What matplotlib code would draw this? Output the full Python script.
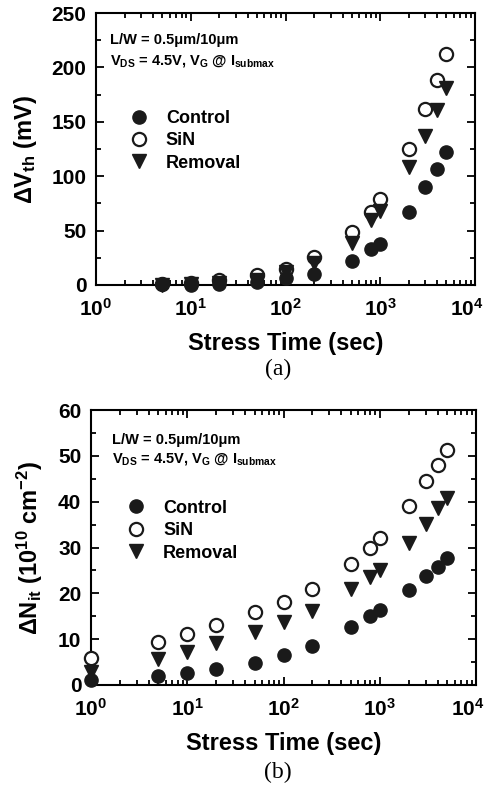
import math
import matplotlib
matplotlib.use("Agg")
import matplotlib.pyplot as plt
from matplotlib.ticker import FixedLocator, FuncFormatter, MultipleLocator, LogLocator, NullFormatter
from matplotlib.transforms import ScaledTranslation

plt.rcParams['font.family'] = ['Liberation Sans', 'DejaVu Sans']
plt.rcParams['font.weight'] = 'bold'
plt.rcParams['mathtext.fontset'] = 'custom'
plt.rcParams['mathtext.rm'] = 'Liberation Sans:bold'
plt.rcParams['mathtext.bf'] = 'Liberation Sans:bold'
plt.rcParams['mathtext.it'] = 'Liberation Sans:bold'

# (a) threshold voltage shift
time_a = [5, 10, 20, 50, 100, 200, 500, 800, 1000, 2000, 3000, 4000, 5000]
dvth_control = [0.5, 0.3, 1, 3, 6, 10, 22, 33, 38, 67, 90, 107, 122]
dvth_sin = [0.5, 2, 4.5, 9, 15, 26, 49, 67, 79, 125, 162, 188, 212]
dvth_removal = [0.3, 0.5, 2, 5, 12, 20, 39, 60, 68, 108, 137, 161, 181]

# (b) interface trap density
time_b = [1, 5, 10, 20, 50, 100, 200, 500, 800, 1000, 2000, 3000, 4000, 5000]
dnit_control = [1.1, 2.0, 2.7, 3.5, 4.9, 6.5, 8.5, 12.6, 15.1, 16.3, 20.8, 23.8, 25.7, 27.8]
dnit_sin = [6.0, 9.3, 11.1, 13.2, 15.9, 18.1, 21.0, 26.4, 29.9, 32.1, 39.1, 44.5, 48.0, 51.3]
dnit_removal = [2.9, 5.6, 7.3, 9.1, 11.6, 13.8, 16.2, 20.9, 23.6, 25.0, 31.0, 35.2, 38.6, 40.7]

labels = ['Control', 'SiN', 'Removal']
caption_a = '(a)'
caption_b = '(b)'
xlabel = 'Stress Time (sec)'

fig = plt.figure(figsize=(4.9, 7.91), dpi=100)
ax1 = fig.add_axes([96/490, 1-285/791, 379/490, 272/791])
ax2 = fig.add_axes([91/490, 1-685/791, 385/490, 275/791])

ms = 9.5

def style(ax, ymax, ymajor, yminor):
    ax.set_xscale('log')
    ax.set_xlim(1, 1e4)
    ax.set_ylim(0, ymax)
    ax.xaxis.set_major_locator(FixedLocator([1, 10, 100, 1000, 10000]))
    ax.xaxis.set_minor_locator(LogLocator(base=10, subs=range(2, 10), numticks=20))
    ax.xaxis.set_minor_formatter(NullFormatter())
    ax.xaxis.set_major_formatter(FuncFormatter(
        lambda v, p: r'$\mathbf{10^{%d}}$' % round(math.log10(v))))
    ax.yaxis.set_major_locator(MultipleLocator(ymajor))
    ax.yaxis.set_minor_locator(MultipleLocator(yminor))
    ax.tick_params(which='both', direction='in', top=True, right=True, width=1.3)
    ax.tick_params(which='major', length=6, labelsize=15, pad=7)
    ax.tick_params(which='minor', length=3.5)
    ax.tick_params(axis='x', which='major', pad=9)
    for s in ax.spines.values():
        s.set_linewidth(1.5)
    for lab in ax.get_xticklabels() + ax.get_yticklabels():
        lab.set_fontweight('bold')
    ax.set_xlabel(xlabel, fontsize=17, fontweight='bold', labelpad=9)

def plot_series(ax, t, sin, rem, ctrl):
    h2, = ax.plot(t, sin, 'o', ms=ms, mfc='white', mec='#1a1a1a', mew=1.6, clip_on=False, zorder=3)
    h3, = ax.plot(t, rem, 'v', ms=ms, mfc='#1a1a1a', mec='#1a1a1a', clip_on=False, zorder=4)
    h1, = ax.plot(t, ctrl, 'o', ms=ms, mfc='#1a1a1a', mec='#1a1a1a', clip_on=False, zorder=5)
    return h1, h2, h3

def legend(ax, handles, anchor):
    ax.legend(handles, labels, loc='upper left', bbox_to_anchor=anchor, frameon=False,
              prop={'weight': 'bold', 'size': 13}, handletextpad=0.9, labelspacing=0.3,
              handlelength=1.2, borderaxespad=0)

# panel (a)
h = plot_series(ax1, time_a, dvth_sin, dvth_removal, dvth_control)
style(ax1, 250, 50, 25)
ax1.set_ylabel(r'$\Delta$V$_{\mathbf{th}}$ (mV)', fontsize=17, fontweight='bold', labelpad=9)
legend(ax1, h, (0.065, 0.67))
ax1.text(0.037, 0.9, 'L/W = 0.5μm/10μm', transform=ax1.transAxes, fontsize=10.5,
         fontweight='bold', va='center')
ax1.text(0.037, 0.825, r'V$_{\mathbf{DS}}$ = 4.5V, V$_{\mathbf{G}}$ @ I$_{\mathbf{submax}}$',
         transform=ax1.transAxes, fontsize=10.5, fontweight='bold', va='center')
fig.text(278/490, 1-369/791, caption_a, family='Liberation Serif', fontweight='normal',
         fontsize=17, ha='center', va='center')

# panel (b)
h = plot_series(ax2, time_b, dnit_sin, dnit_removal, dnit_control)
style(ax2, 60, 10, 5)
ax2.set_ylabel(r'$\Delta$N$_{\mathbf{it}}$ (10$^{\mathbf{10}}$ cm$^{\mathbf{-2}}$)',
               fontsize=17, fontweight='bold', labelpad=9)
legend(ax2, h, (0.07, 0.70))
ax2.text(0.055, 0.89, 'L/W = 0.5μm/10μm', transform=ax2.transAxes, fontsize=10.5,
         fontweight='bold', va='center')
ax2.text(0.055, 0.822, r'V$_{\mathbf{DS}}$ = 4.5V, V$_{\mathbf{G}}$ @ I$_{\mathbf{submax}}$',
         transform=ax2.transAxes, fontsize=10.5, fontweight='bold', va='center')
fig.text(278/490, 1-772/791, caption_b, family='Liberation Serif', fontweight='normal',
         fontsize=17, ha='center', va='center')

# keep the rightmost x tick label inside the figure
fig.canvas.draw()
for ax in (ax1, ax2):
    lab = ax.xaxis.get_major_ticks()[-1].label1
    lab.set_transform(lab.get_transform() + ScaledTranslation(-6/72, 0, fig.dpi_scale_trans))

fig.savefig('out.png', dpi=100)
